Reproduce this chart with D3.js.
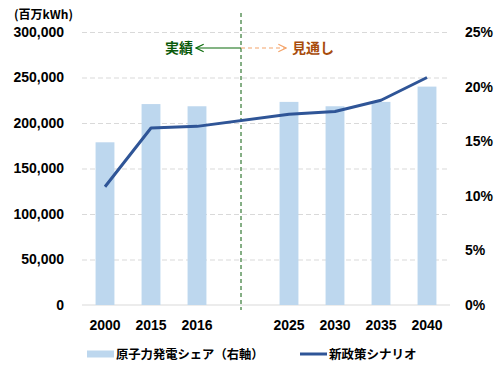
<!DOCTYPE html>
<html>
<head>
<meta charset="utf-8">
<script src="https://cdn.jsdelivr.net/npm/d3@7"></script>
<style>
  body { margin: 0; background: #fff; }
  svg { font-family: "Liberation Sans", Arial, "Noto Sans CJK JP", sans-serif; }
  .jp { font-family: "Noto Sans CJK JP", sans-serif; }
</style>
</head>
<body>
<div id="chart"></div>
<script>
// data
const categories = ["2000", "2015", "2016", "", "2025", "2030", "2035", "2040"];
const shareValues = [0.149, 0.184, 0.182, null, 0.186, 0.182, 0.186, 0.200];   // 原子力発電シェア (右軸)
const kwhValues = [130000, 194500, 196300, null, 209600, 212700, 225000, 250000]; // 新政策シナリオ
const leftTicks = [0, 50000, 100000, 150000, 200000, 250000, 300000];
const rightTicks = [0, 0.05, 0.10, 0.15, 0.20, 0.25];

// constants
const width = 504, height = 373;
const plot = { left: 82, right: 450, top: 32, bottom: 305 };

const svg = d3.select("#chart")
    .append("svg")
    .attr("width", width)
    .attr("height", height);

// scales
const x = d3.scaleBand()
    .domain(categories)
    .range([plot.left, plot.right]);

const yLeft = d3.scaleLinear()
    .domain([0, 300000])
    .range([plot.bottom, plot.top]);

const yRight = d3.scaleLinear()
    .domain([0, 0.25])
    .range([plot.bottom, plot.top]);

// gridlines
svg.append("g")
    .attr("transform", `translate(${plot.left},0)`)
    .call(d3.axisLeft(yLeft).tickValues(leftTicks.slice(1)).tickSize(-(plot.right - plot.left)).tickFormat(""))
    .call(g => g.select(".domain").remove())
    .call(g => g.selectAll("line")
        .attr("stroke", "#d9d9d9")
        .attr("stroke-dasharray", "5,3"));

// baseline
svg.append("line")
    .attr("x1", plot.left).attr("x2", plot.right)
    .attr("y1", yLeft(0)).attr("y2", yLeft(0))
    .attr("stroke", "#d9d9d9")
    .attr("stroke-width", 1);

// bars
const barW = x.bandwidth() * 0.41;
svg.append("g")
    .selectAll("rect")
    .data(categories.map((c, i) => ({ c: c, v: shareValues[i] })).filter(d => d.v != null))
    .enter().append("rect")
    .attr("x", d => x(d.c) + x.bandwidth() / 2 - barW / 2)
    .attr("y", d => yRight(d.v))
    .attr("width", barW)
    .attr("height", d => yRight(0) - yRight(d.v))
    .attr("fill", "#bdd7ee");

// divider between actual and outlook
const divX = x("") + x.bandwidth() / 2 - 2;
svg.append("line")
    .attr("x1", divX).attr("x2", divX)
    .attr("y1", 13).attr("y2", 310)
    .attr("stroke", "#0b5e0b")
    .attr("stroke-width", 1)
    .attr("stroke-dasharray", "4,3");

// line
const lineData = categories.map((c, i) => ({ c: c, v: kwhValues[i] })).filter(d => d.v != null);
const line = d3.line()
    .x(d => x(d.c) + x.bandwidth() / 2)
    .y(d => yLeft(d.v));

svg.append("path")
    .datum(lineData)
    .attr("d", line)
    .attr("fill", "none")
    .attr("stroke", "#2f5597")
    .attr("stroke-width", 3)
    .attr("stroke-linejoin", "round");

// axis text style
function styleText(g) {
    g.select(".domain").remove();
    g.selectAll("text")
        .attr("font-size", 14)
        .attr("font-weight", "bold")
        .attr("fill", "#000")
        .attr("font-family", "Liberation Sans, Arial, sans-serif");
}

// left axis labels
svg.append("g")
    .attr("transform", `translate(${plot.left - 18},0)`)
    .call(d3.axisLeft(yLeft).tickValues(leftTicks).tickSize(0).tickPadding(0).tickFormat(d3.format(",")))
    .call(styleText);

// right axis labels
svg.append("g")
    .attr("transform", `translate(${plot.right + 15},0)`)
    .call(d3.axisRight(yRight).tickValues(rightTicks).tickSize(0).tickPadding(0).tickFormat(d3.format(".0%")))
    .call(styleText);

// x axis labels
svg.append("g")
    .attr("transform", `translate(0,${plot.bottom})`)
    .call(d3.axisBottom(x).tickSize(0).tickPadding(15))
    .call(styleText);

// unit label
svg.append("text")
    .attr("class", "jp")
    .attr("x", 14).attr("y", 19)
    .attr("font-size", 12)
    .attr("font-weight", "bold")
    .text("(百万kWh)");

// annotations
const annY = 48;
svg.append("defs").selectAll("marker")
    .data([{ id: "arrowG", color: "#0a6b0a" }, { id: "arrowO", color: "#f4a46a" }])
    .enter().append("marker")
    .attr("id", d => d.id)
    .attr("viewBox", "0 0 10 10")
    .attr("refX", 9).attr("refY", 5)
    .attr("markerWidth", 8).attr("markerHeight", 8)
    .attr("orient", "auto")
    .append("path")
    .attr("d", "M1,1 L9,5 L1,9")
    .attr("fill", "none")
    .attr("stroke", d => d.color)
    .attr("stroke-width", 1.2);

svg.append("line")
    .attr("x1", divX).attr("x2", 196)
    .attr("y1", annY).attr("y2", annY)
    .attr("stroke", "#0a6b0a")
    .attr("stroke-width", 1.2)
    .attr("marker-end", "url(#arrowG)");

svg.append("line")
    .attr("x1", divX).attr("x2", 286)
    .attr("y1", annY).attr("y2", annY)
    .attr("stroke", "#f4a46a")
    .attr("stroke-width", 1.2)
    .attr("stroke-dasharray", "4,3")
    .attr("marker-end", "url(#arrowO)");

svg.append("text")
    .attr("class", "jp")
    .attr("x", 193).attr("y", annY + 5)
    .attr("text-anchor", "end")
    .attr("font-size", 14)
    .attr("font-weight", "bold")
    .attr("fill", "#0a5a0a")
    .text("実績");

svg.append("text")
    .attr("class", "jp")
    .attr("x", 292).attr("y", annY + 5)
    .attr("font-size", 14)
    .attr("font-weight", "bold")
    .attr("fill", "#a84c0c")
    .text("見通し");

// legend
const legY = 354;
svg.append("rect")
    .attr("x", 87).attr("y", legY - 3.5)
    .attr("width", 27).attr("height", 7)
    .attr("fill", "#bdd7ee");
svg.append("text")
    .attr("class", "jp")
    .attr("x", 116).attr("y", legY + 4.5)
    .attr("font-size", 12.3)
    .attr("font-weight", "bold")
    .text("原子力発電シェア（右軸）");

svg.append("line")
    .attr("x1", 300).attr("x2", 327)
    .attr("y1", legY).attr("y2", legY)
    .attr("stroke", "#2f5597")
    .attr("stroke-width", 3);
svg.append("text")
    .attr("class", "jp")
    .attr("x", 329).attr("y", legY + 4.5)
    .attr("font-size", 12.5)
    .attr("font-weight", "bold")
    .text("新政策シナリオ");
</script>
</body>
</html>
